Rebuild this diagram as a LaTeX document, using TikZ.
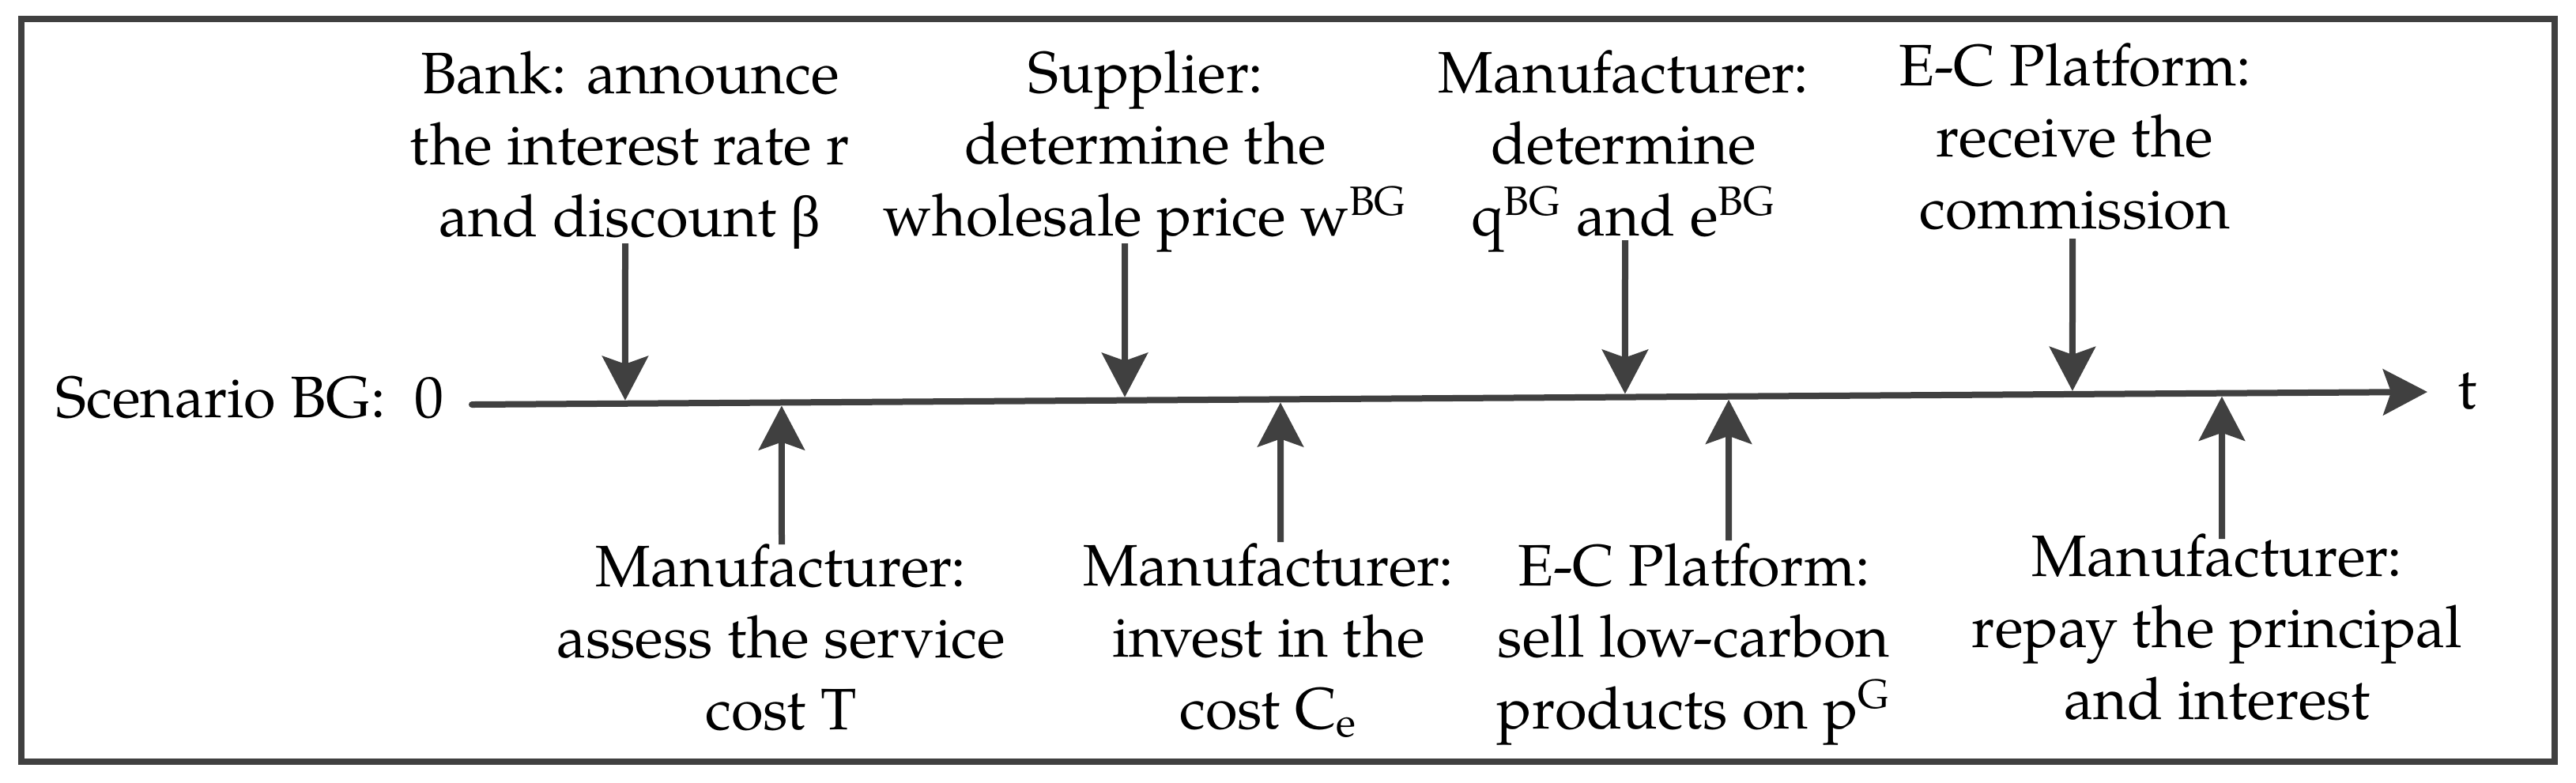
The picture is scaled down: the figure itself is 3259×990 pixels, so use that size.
\documentclass[tikz,border=0pt]{standalone}
\usepackage{fontspec}
\setmainfont{TeX Gyre Pagella}
\newfontfamily\grk{Liberation Serif}
\usetikzlibrary{arrows.meta,calc}
\definecolor{ln}{HTML}{404040}
\begin{document}
\begin{tikzpicture}[x=0.25pt,y=-0.25pt,
  lbl/.style={font=\fontsize{18.5pt}{22.6pt}\selectfont, align=center, anchor=base, inner sep=0pt},
  tipstyle/.style={-{Stealth[length=14pt,width=14.5pt,inset=2.5pt]}},
  evt/.style={draw=ln, line width=2pt, tipstyle, shorten >=1pt},
  axisline/.style={draw=ln, line width=2pt, line cap=round, tipstyle},
  frame/.style={draw=ln, line width=2pt}]
\useasboundingbox (0,0) rectangle (3259,990);
\draw[frame] (27,24) rectangle (3232,964);
% axis
\node[lbl, anchor=base west] (scn) at (70,528) {Scenario BG:\ \ 0};
\coordinate (t0) at (597,512);
\coordinate (t1) at (3071,496);
\draw[axisline] (t0) -- (t1);
\node[lbl] (tl) at (3122,517) {t};
% points on the axis
\coordinate (p1) at ($(t0)!0.0784!(t1)$);
\coordinate (p2) at ($(t0)!0.3339!(t1)$);
\coordinate (p3) at ($(t0)!0.5897!(t1)$);
\coordinate (p4) at ($(t0)!0.8185!(t1)$);
\coordinate (q1) at ($(t0)!0.1584!(t1)$);
\coordinate (q2) at ($(t0)!0.4135!(t1)$);
\coordinate (q3) at ($(t0)!0.6427!(t1)$);
\coordinate (q4) at ($(t0)!0.8949!(t1)$);
% top events (base = last line)
\node[lbl] (bank) at (797,299) {Bank: announce\\the interest rate r\\and discount {\grk β}};
\node[lbl] (sup) at (1449,298) {Supplier:\\determine the\\wholesale price w\textsuperscript{BG}};
\node[lbl] (mdet) at (2054,298) {Manufacturer:\\determine\\q\textsuperscript{BG} and e\textsuperscript{BG}};
\node[lbl] (ecr) at (2625,289) {E-C Platform:\\receive the\\commission};
\coordinate (a1) at (791,308);
\coordinate (a2) at (1423,308);
\coordinate (a3) at (2056,304);
\coordinate (a4) at (2622,302);
\draw[evt] (a1) -- (p1);
\draw[evt] (a2) -- (p2);
\draw[evt] (a3) -- (p3);
\draw[evt] (a4) -- (p4);
% bottom events
\node[lbl] (mass) at (988,923) {Manufacturer:\\assess the service\\cost T};
\node[lbl] (minv) at (1605,922) {Manufacturer:\\invest in the\\cost C\textsubscript{e}};
\node[lbl] (ecs) at (2143,922) {E-C Platform:\\sell low-carbon\\products on p\textsuperscript{G}};
\node[lbl] (mrep) at (2805,910) {Manufacturer:\\repay the principal\\and interest};
\coordinate (b1) at (989,689);
\coordinate (b2) at (1620,686);
\coordinate (b3) at (2187,684);
\coordinate (b4) at (2811,682);
\draw[evt] (b1) -- (q1);
\draw[evt] (b2) -- (q2);
\draw[evt] (b3) -- (q3);
\draw[evt] (b4) -- (q4);
\end{tikzpicture}
\end{document}
